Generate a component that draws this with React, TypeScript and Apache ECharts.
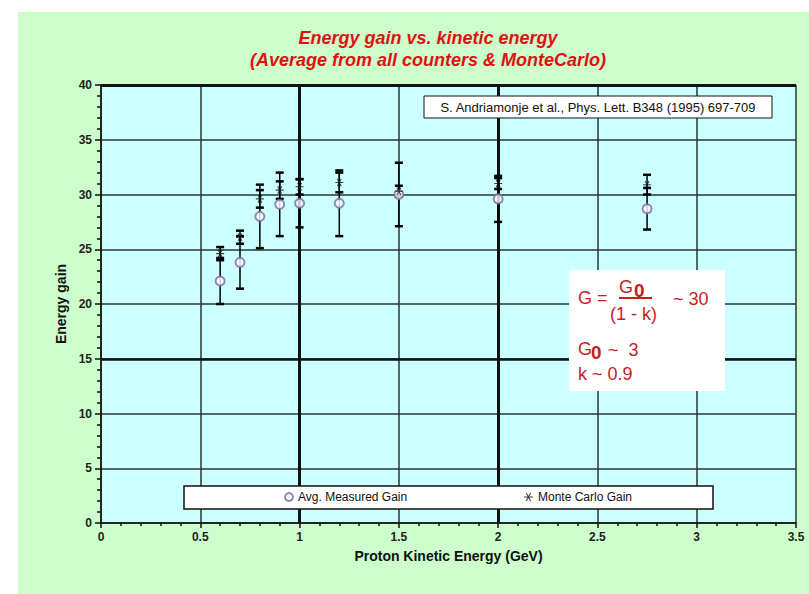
import React, { useEffect, useRef } from "react";
import * as echarts from "echarts";

const energies = [0.6, 0.7, 0.8, 0.9, 1.0, 1.2, 1.5, 2.0, 2.75];
const measuredGain = [22.1, 23.8, 28.0, 29.1, 29.2, 29.2, 30.0, 29.6, 28.7];
const measuredErr = [2.1, 2.4, 2.9, 2.9, 2.2, 3.0, 2.9, 2.1, 1.9];
const monteCarloGain = [24.6, 26.1, 29.6, 30.4, 30.7, 31.1, 30.3, 31.0, 30.9];
const monteCarloErr = [0.6, 0.6, 0.8, 0.8, 0.7, 0.9, 0.5, 0.5, 0.9];

const titleLines = ["Energy gain vs. kinetic energy", "(Average from all counters & MonteCarlo)"];
const referenceText = "S. Andriamonje et al., Phys. Lett. B348 (1995) 697-709";
const seriesNames = ["Avg. Measured Gain", "Monte Carlo Gain"];

const FONT = '"Liberation Sans Narrow", "Liberation Sans", Arial, sans-serif';
const SANS = '"Liberation Sans", Arial, sans-serif';
const RED = "#e01010";
const FRED = "#c41e1e";

const STAR =
  "path://M0,4.4L10,4.4L10,5.6L0,5.6Z M1.98,0.97L3.02,0.37L8.02,9.03L6.98,9.63Z M6.98,0.37L8.02,0.97L3.02,9.63L1.98,9.03Z";

function errRender(lw: number) {
  return (params: any, api: any) => {
    const x = api.value(0);
    const lo = api.value(1);
    const hi = api.value(2);
    const a = api.coord([x, lo]);
    const b = api.coord([x, hi]);
    const hw = 4;
    const st = { stroke: "#000", lineWidth: lw };
    return {
      type: "group",
      children: [
        { type: "line", shape: { x1: a[0], y1: a[1], x2: b[0], y2: b[1] }, style: st },
        { type: "line", shape: { x1: a[0] - hw, y1: a[1], x2: a[0] + hw, y2: a[1] }, style: { stroke: "#000", lineWidth: 2.5 } },
        { type: "line", shape: { x1: b[0] - hw, y1: b[1], x2: b[0] + hw, y2: b[1] }, style: { stroke: "#000", lineWidth: 2.5 } },
      ],
    };
  };
}

export default function App() {
  const ref = useRef<HTMLDivElement>(null);
  useEffect(() => {
    if (!ref.current) return;
    const chart = echarts.init(ref.current, null, { renderer: "svg" });
    const measuredPts = energies.map((e, i) => [e, measuredGain[i]]);
    const mcPts = energies.map((e, i) => [e, monteCarloGain[i]]);
    const measuredBars = energies.map((e, i) => [e, measuredGain[i] - measuredErr[i], measuredGain[i] + measuredErr[i]]);
    const mcBars = energies.map((e, i) => [e, monteCarloGain[i] - monteCarloErr[i], monteCarloGain[i] + monteCarloErr[i]]);

    const fTxt = (x: number, y: number, text: string, font: string) => ({
      type: "text",
      z: 8,
      x,
      y,
      style: { text, fill: FRED, font, verticalAlign: "middle" },
    });

    const option: any = {
      animation: false,
      backgroundColor: "#ccffcc",
      grid: {
        left: 83,
        top: 73,
        width: 695,
        height: 438,
        show: true,
        backgroundColor: "#ccffff",
        borderWidth: 0,
      },
      xAxis: {
        type: "value",
        min: 0,
        max: 3.5,
        interval: 0.5,
        name: "Proton Kinetic Energy (GeV)",
        nameLocation: "middle",
        nameGap: 26,
        nameTextStyle: { fontFamily: FONT, fontWeight: "bold", fontSize: 14, color: "#111" },
        axisLine: { show: true, onZero: false, lineStyle: { color: "#111", width: 1.5 } },
        axisTick: { show: true, length: 5, lineStyle: { color: "#111", width: 1.5 } },
        minorTick: { show: true, splitNumber: 5, length: 3, lineStyle: { color: "#111", width: 1.5 } },
        axisLabel: { fontFamily: FONT, fontSize: 12, fontWeight: "bold", color: "#222", margin: 8 },
        splitLine: { show: true, lineStyle: { color: "#2b3535", width: 1.5 } },
      },
      yAxis: {
        type: "value",
        min: 0,
        max: 40,
        interval: 5,
        name: "Energy gain",
        nameLocation: "middle",
        nameGap: 32,
        nameRotate: 90,
        nameTextStyle: { fontFamily: FONT, fontWeight: "bold", fontSize: 14, color: "#111" },
        axisLine: { show: true, lineStyle: { color: "#111", width: 1.5 } },
        axisTick: { show: true, length: 6, lineStyle: { color: "#111", width: 1.5 } },
        minorTick: { show: true, splitNumber: 5, length: 4, lineStyle: { color: "#111", width: 1.5 } },
        axisLabel: { fontFamily: FONT, fontSize: 12, fontWeight: "bold", color: "#222", margin: 9 },
        splitLine: { show: true, lineStyle: { color: "#2b3535", width: 1.5 } },
      },
      legend: [
        {
          data: [seriesNames[0]],
          left: 266,
          top: 479,
          itemWidth: 8,
          itemHeight: 8,
          itemGap: 0,
          padding: 0,
          textStyle: { fontFamily: SANS, fontSize: 12, color: "#111" },
          z: 9,
        },
        {
          data: [seriesNames[1]],
          left: 506,
          top: 479,
          itemWidth: 9,
          itemHeight: 9,
          padding: 0,
          textStyle: { fontFamily: SANS, fontSize: 12, color: "#111" },
          z: 9,
        },
      ],
      graphic: [
        {
          type: "text",
          x: 410,
          y: 26,
          style: {
            text: titleLines[0],
            fill: RED,
            font: `italic bold 18px ${FONT}`,
            align: "center",
            verticalAlign: "middle",
          },
        },
        {
          type: "text",
          x: 410,
          y: 48,
          style: {
            text: titleLines[1],
            fill: RED,
            font: `italic bold 18px ${FONT}`,
            align: "center",
            verticalAlign: "middle",
          },
        },
        {
          type: "rect",
          z: 7,
          shape: { x: 406, y: 84, width: 348, height: 22 },
          style: { fill: "#fff", stroke: "#111", lineWidth: 1 },
        },
        {
          type: "text",
          z: 8,
          x: 580,
          y: 95,
          style: {
            text: referenceText,
            fill: "#111",
            font: `13px ${SANS}`,
            align: "center",
            verticalAlign: "middle",
          },
        },
        {
          type: "rect",
          z: 7,
          shape: { x: 166, y: 474, width: 529, height: 23 },
          style: { fill: "#fff", stroke: "#111", lineWidth: 1.5 },
        },
        {
          type: "rect",
          z: 7,
          shape: { x: 551, y: 258, width: 156, height: 121 },
          style: { fill: "#fff", stroke: "none" },
        },
        fTxt(560, 286, "G =", `18px ${SANS}`),
        fTxt(601, 275, "G", `18px ${SANS}`),
        fTxt(616, 278, "0", `bold 19px ${SANS}`),
        { type: "line", z: 8, shape: { x1: 601, y1: 286, x2: 634, y2: 286 }, style: { stroke: FRED, lineWidth: 1.8 } },
        fTxt(592, 302, "(1 - k)", `18px ${SANS}`),
        fTxt(655, 287, "~ 30", `18px ${SANS}`),
        fTxt(560, 337, "G", `18px ${SANS}`),
        fTxt(573, 340, "0", `bold 19px ${SANS}`),
        fTxt(590, 338, "~  3", `18px ${SANS}`),
        fTxt(560, 362, "k ~ 0.9", `18px ${SANS}`),
      ],
      series: [
        {
          type: "line",
          data: [],
          silent: true,
          z: 1,
          markLine: {
            silent: true,
            z: 1,
            symbol: "none",
            label: { show: false },
            lineStyle: { color: "#111", width: 3, type: "solid" },
            data: [{ xAxis: 1 }, { xAxis: 2 }, { yAxis: 40 }, { yAxis: 15, lineStyle: { width: 2.5, color: "#111" } }],
          },
        },
        {
          type: "custom",
          name: "measuredErr",
          renderItem: errRender(1.5),
          encode: { x: 0, y: [1, 2] },
          data: measuredBars,
          z: 2,
        },
        {
          type: "custom",
          name: "mcErr",
          renderItem: errRender(1.5),
          encode: { x: 0, y: [1, 2] },
          data: mcBars,
          z: 2,
        },
        {
          type: "scatter",
          name: seriesNames[0],
          symbol: "emptyCircle",
          symbolSize: 9,
          itemStyle: { color: "#7a6aa8", borderWidth: 1.2 },
          data: measuredPts,
          z: 5,
        },
        {
          type: "scatter",
          name: seriesNames[1],
          symbol: STAR,
          symbolSize: 8,
          itemStyle: { color: "#111" },
          data: mcPts,
          z: 5,
        },
      ],
    };
    chart.setOption(option);
    return () => chart.dispose();
  }, []);

  return (
    <div style={{ position: "fixed", left: 0, top: 0, width: 809, height: 594, background: "#fff" }}>
      <div ref={ref} style={{ position: "absolute", left: 18, top: 12, width: 791, height: 582 }} />
    </div>
  );
}
